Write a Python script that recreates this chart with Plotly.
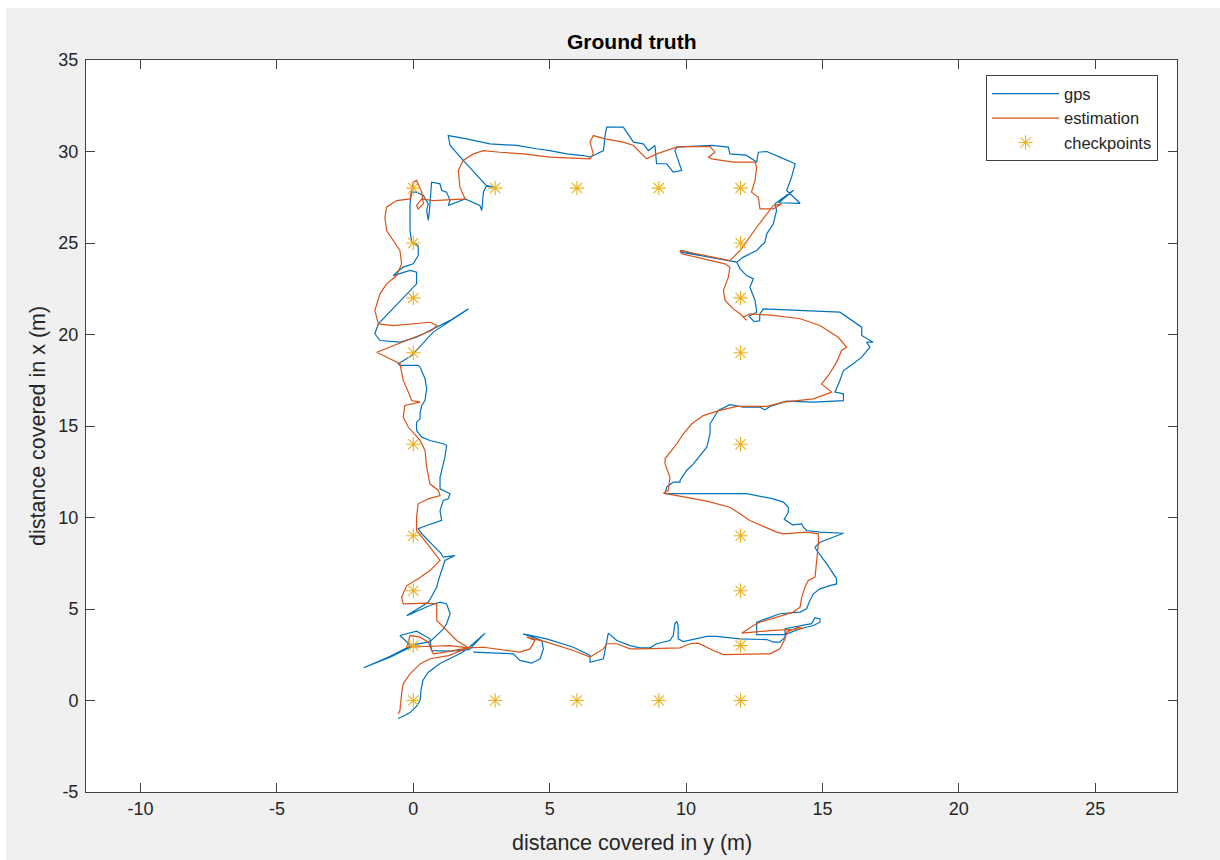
import plotly.graph_objects as go

# (distance in y, distance in x) pairs, metres
gps_track = [
(-0.56,-0.98),(-0.35,-0.85),(-0.12,-0.66),(0.1,-0.35),(0.25,0.0),(0.28,0.55),(0.35,1.09),(0.54,1.53),(0.98,2.02),(1.42,2.35),(1.79,2.62),(2.0,2.84),(2.63,3.68),(2.05,2.78),(1.4,2.7),(0.67,2.73),(0.61,3.37),(0.12,3.79),(-0.49,3.55),(-0.06,2.95),(-0.85,2.37),(-1.82,1.79),(-0.85,2.42),(0.0,3.05),(0.6,3.2),(1.1,3.9),(1.22,4.19),(1.35,4.74),(1.22,5.28),(0.98,5.37),(0.61,5.19),(-0.24,4.64),(0.55,5.37),(0.86,6.19),(0.92,6.56),(1.16,7.65),(1.53,7.92),(1.1,7.83),(0.98,8.1),(0.67,8.56),(0.31,9.11),(0.18,9.38),(0.31,9.47),(1.04,9.84),(0.98,10.38),(1.1,10.93),(1.28,11.02),(1.35,11.3),(1.22,11.38),(0.98,11.57),(0.98,12.2),(1.1,12.93),(1.16,13.3),(1.22,13.93),(1.1,14.03),(0.61,14.21),(0.31,14.39),(0.12,14.75),(0.12,15.21),(0.25,15.39),(0.25,15.75),(0.31,16.12),(0.43,16.39),(0.49,17.03),(0.43,17.58),(0.25,18.21),(0.18,18.31),(-0.49,18.31),(-0.55,18.4),(-0.06,18.85),(0.73,20.13),(2.02,21.4),(1.35,20.77),(0.61,20.22),(0.12,19.85),(-0.49,19.58),(-1.22,19.67),(-1.41,20.04),(-1.28,20.58),(0.12,22.77),(0.12,23.4),(-0.12,23.5),(-0.73,23.22),(-0.61,23.4),(-0.37,23.68),(0.0,23.86),(0.18,24.32),(0.18,24.86),(-0.06,25.05),(-0.12,25.68),(-0.12,27.14),(-0.06,27.78),(0.12,27.78),(0.37,27.6),(0.55,27.14),(0.49,26.78),(0.55,26.23),(0.6,26.9),(0.67,28.32),(0.98,28.23),(1.04,27.87),(1.22,27.78),(1.35,27.32),(1.28,27.05),(1.9,27.41),(2.44,27.05),(2.51,26.78),(2.57,27.78),(2.69,28.14),(2.93,28.05),(2.7,28.1),(1.83,29.51),(1.35,30.33),(1.28,30.87),(1.96,30.69),(2.81,30.42),(3.79,30.33),(4.52,30.15),(5.01,30.05),(5.62,29.87),(6.23,29.78),(6.48,29.69),(6.72,29.87),(6.97,30.05),(7.03,30.87),(7.09,31.33),(7.7,31.33),(8.07,30.51),(8.43,30.42),(8.62,30.05),(8.86,30.33),(8.92,29.33),(9.29,29.33),(9.53,28.87),(9.84,28.96),(9.59,30.05),(9.66,30.24),(10.94,30.33),(11.55,30.24),(11.61,29.87),(12.2,29.8),(12.59,29.42),(12.65,29.96),(12.96,30.0),(13.44,29.69),(14.0,29.33),(13.87,28.6),(13.69,27.87),(14.18,27.17),(13.4,27.2),(13.95,27.9),(13.26,27.14),(13.32,26.78),(13.2,26.05),(12.96,25.5),(12.89,25.05),(12.59,24.59),(12.1,24.23),(11.86,23.95),(11.24,24.13),(10.51,24.32),(9.84,24.59),(9.78,24.5),(10.6,24.3),(11.86,23.95),(11.98,23.59),(12.22,23.22),(12.47,23.04),(12.34,22.58),(12.53,21.86),(12.59,21.22),(12.3,21.0),(12.5,20.7),(12.7,20.75),(12.7,21.1),(12.83,21.4),(14.42,21.31),(15.64,21.22),(16.44,20.4),(16.44,19.95),(16.86,19.58),(16.62,19.58),(16.74,19.31),(16.44,18.76),(16.13,18.4),(15.77,18.03),(15.64,17.49),(15.46,16.85),(15.77,16.76),(15.77,16.39),(14.67,16.3),(13.69,16.36),(13.08,16.07),(12.89,15.88),(12.71,16.03),(12.1,16.03),(11.61,16.17),(11.18,15.85),(10.88,15.12),(10.88,14.57),(10.76,13.84),(10.45,13.3),(10.27,12.93),(10.02,12.57),(9.78,12.02),(9.78,11.93),(9.53,11.93),(9.29,11.66),(9.23,11.3),(9.78,11.3),(11.12,11.3),(12.22,11.3),(13.2,11.02),(13.57,10.84),(13.75,10.56),(13.75,10.29),(13.6,9.9),(13.9,9.6),(14.24,9.65),(14.3,9.47),(14.42,9.29),(14.91,9.2),(15.77,9.14),(14.91,8.65),(14.73,8.38),(14.79,8.2),(15.16,7.47),(15.52,6.65),(15.52,6.37),(15.27,6.28),(14.91,6.1),(14.67,5.83),(14.54,5.46),(14.42,5.01),(14.18,4.83),(13.44,4.74),(12.59,4.28),(12.59,3.6),(13.63,3.6),(14.18,3.92),(14.67,4.1),(14.91,4.28),(14.91,4.46),(14.73,4.52),(14.6,4.2),(13.63,3.92),(13.63,3.46),(13.44,3.19),(13.2,3.19),(12.96,3.33),(11.98,3.37),(11.12,3.5),(10.76,3.5),(9.9,3.22),(9.71,3.37),(9.71,4.1),(9.66,4.32),(9.59,4.19),(9.53,3.55),(9.41,3.28),(8.92,3.1),(8.68,2.88),(8.31,2.88),(7.95,3.0),(7.46,3.28),(7.15,3.68),(6.97,2.28),(6.48,2.09),(6.48,2.46),(5.87,2.91),(4.89,3.37),(4.03,3.64),(4.71,3.28),(4.77,2.82),(4.65,2.28),(4.34,2.04),(3.91,2.19),(3.67,2.55),(2.2,2.64),
]

estimation_track = [
(-0.55,-0.73),(-0.49,-0.55),(-0.43,0.37),(-0.37,0.91),(-0.12,1.46),(0.25,2.0),(0.61,2.28),(0.98,2.37),(1.3,2.45),(2.02,2.88),(1.35,3.0),(0.4,2.95),(-0.24,2.91),(-0.12,3.55),(0.25,3.46),(0.55,3.19),(0.73,2.55),(1.0,2.6),(2.02,2.88),(1.59,3.28),(1.1,4.01),(0.86,4.37),(0.86,5.28),(0.49,5.32),(-0.37,5.28),(-0.43,5.64),(-0.24,6.28),(0.18,6.65),(0.61,7.1),(0.98,7.65),(0.61,8.38),(0.31,8.92),(0.12,9.29),(0.12,10.02),(0.18,10.75),(0.55,11.02),(0.98,11.2),(0.92,11.48),(0.61,11.84),(0.49,12.75),(0.43,13.66),(0.25,14.21),(-0.18,14.93),(-0.37,15.48),(-0.31,16.12),(0.25,16.3),(-0.06,16.39),(-0.18,16.85),(-0.37,17.49),(-0.49,18.4),(-1.34,19.03),(0.67,20.22),(0.86,20.49),(0.61,20.67),(-0.73,20.49),(-1.28,20.58),(-1.41,21.31),(-1.22,22.22),(-0.98,22.77),(-0.61,23.22),(-0.43,23.86),(-0.49,24.59),(-0.73,25.14),(-0.98,25.68),(-1.04,26.41),(-0.98,26.96),(-0.61,27.32),(-0.12,27.41),(0.0,28.32),(0.12,28.42),(0.31,27.78),(0.37,27.14),(0.18,26.86),(0.12,27.05),(0.31,27.41),(0.73,27.32),(1.9,27.41),(1.71,28.05),(1.65,28.96),(1.83,29.51),(2.2,29.87),(2.57,30.05),(3.18,29.96),(4.03,29.87),(5.01,29.69),(6.48,29.6),(6.6,29.87),(6.48,30.51),(6.6,30.87),(7.03,30.69),(7.7,30.51),(8.07,30.33),(8.49,29.69),(8.56,29.6),(8.92,29.87),(9.71,30.27),(10.88,30.27),(11.06,29.96),(10.82,29.69),(10.94,29.6),(11.73,29.42),(12.53,29.42),(12.59,29.15),(12.53,28.42),(12.4,27.78),(12.65,27.5),(12.71,26.86),(13.2,26.86),(13.51,27.14),(13.2,27.05),(12.59,25.86),(11.98,24.59),(11.61,24.04),(9.78,24.59),(9.84,24.41),(11.43,23.86),(11.61,23.68),(11.55,23.13),(11.37,22.4),(11.43,21.86),(11.73,21.4),(11.98,21.13),(12.22,20.77),(12.1,20.95),(12.34,21.13),(13.2,21.04),(14.18,20.86),(14.91,20.49),(15.58,19.85),(15.89,19.31),(15.7,19.13),(15.52,18.49),(15.22,17.76),(14.97,17.3),(15.34,16.85),(14.67,16.48),(13.57,16.3),(12.96,16.07),(11.86,16.07),(11.24,15.85),(10.63,15.57),(10.21,15.12),(9.9,14.57),(9.66,14.03),(9.23,13.21),(9.23,12.93),(9.41,12.2),(9.35,11.48),(9.17,11.33),(9.9,11.11),(10.76,10.89),(11.61,10.56),(12.34,9.84),(13.32,9.2),(13.57,9.11),(14.42,9.2),(14.85,9.11),(14.85,8.56),(14.79,7.65),(14.73,6.74),(14.48,6.56),(14.36,6.19),(14.24,5.64),(14.18,5.1),(13.93,4.83),(12.71,4.28),(12.47,4.1),(12.04,3.68),(13.2,3.83),(14.3,3.92),(14.12,4.01),(13.69,3.73),(13.63,3.37),(13.44,2.82),(13.08,2.55),(11.37,2.51),(11.0,2.73),(10.45,3.13),(10.14,3.1),(9.78,2.88),(8.31,2.82),(7.95,2.82),(7.46,3.1),(7.09,3.1),(6.97,2.82),(6.48,2.37),(5.87,2.73),(4.89,3.19),(4.16,3.46),(4.46,3.28),(4.28,2.82),(3.91,2.64),(2.57,2.91),(2.02,2.88),
]

checkpoint_y = [0, 3, 6, 9, 12, 0, 0, 0, 0, 0, 0, 0, 0, 3, 6, 9, 12, 12, 12, 12, 12, 12, 12, 12]
checkpoint_x = [0, 0, 0, 0, 0, 3, 6, 9, 14, 19, 22, 25, 28, 28, 28, 28, 28, 25, 22, 19, 14, 9, 6, 3]

x_ticks = [-10, -5, 0, 5, 10, 15, 20, 25]
x_tick_labels = ["-10", "-5", "0", "5", "10", "15", "20", "25"]
y_ticks = [-5, 0, 5, 10, 15, 20, 25, 30, 35]
y_tick_labels = ["-5", "0", "5", "10", "15", "20", "25", "30", "35"]

FONT = "Liberation Sans, Arial, Helvetica, sans-serif"
TXT = "#262626"
AX = "#404040"

fig = go.Figure()
fig.add_trace(go.Scatter(
    x=[p[0] for p in gps_track], y=[p[1] for p in gps_track],
    mode="lines", name="gps", line=dict(color="#0072BD", width=1.2)))
fig.add_trace(go.Scatter(
    x=[p[0] for p in estimation_track], y=[p[1] for p in estimation_track],
    mode="lines", name="estimation", line=dict(color="#D95319", width=1.2)))
fig.add_trace(go.Scatter(
    x=checkpoint_y, y=checkpoint_x, mode="markers", name="checkpoints",
    marker=dict(symbol="asterisk-open", size=12, color="#EDB120",
                line=dict(color="#EDB120", width=1.1))))

axis_common = dict(
    showgrid=False, zeroline=False, showline=True, linecolor=AX, linewidth=1,
    mirror="ticks", ticks="inside", ticklen=9, tickcolor=AX, tickwidth=1,
    tickfont=dict(family=FONT, size=18, color=TXT),
)
fig.update_xaxes(range=[-12, 28], tickvals=x_ticks, ticktext=x_tick_labels, **axis_common)
fig.update_yaxes(range=[-5, 35], tickvals=y_ticks, ticktext=y_tick_labels,
                 ticklabelstandoff=3, **axis_common)

fig.update_layout(
    width=1220, height=860, autosize=False,
    margin=dict(l=86, r=43, t=60, b=68),
    paper_bgcolor="#f0f0f0", plot_bgcolor="white",
    font=dict(family=FONT, color=TXT),
    showlegend=True,
    legend=dict(
        x=0.9826, xanchor="right", y=0.979, yanchor="top",
        bgcolor="white", bordercolor=AX, borderwidth=1,
        font=dict(family=FONT, size=16.5, color=TXT), itemwidth=67,
    ),
    shapes=[
        dict(type="rect", xref="paper", yref="paper", x0=-0.09, x1=-0.0733,
             y0=-0.2, y1=1.2, fillcolor="white", line=dict(width=0), layer="above"),
        dict(type="rect", xref="paper", yref="paper", x0=-0.09, x1=1.1,
             y0=1.0710, y1=1.2, fillcolor="white", line=dict(width=0), layer="above"),
    ],
    annotations=[
        dict(text="<b>Ground truth</b>", xref="paper", yref="paper", x=0.5, y=1.0246,
             xanchor="center", yanchor="middle", showarrow=False,
             font=dict(family=FONT, size=21, color="black")),
        dict(text="distance covered in y (m)", xref="paper", yref="paper", x=0.5, y=-0.0697,
             xanchor="center", yanchor="middle", showarrow=False,
             font=dict(family=FONT, size=21.5, color=TXT)),
        dict(text="distance covered in x (m)", xref="paper", yref="paper", x=-0.044, y=0.5,
             xanchor="center", yanchor="middle", showarrow=False, textangle=-90,
             font=dict(family=FONT, size=21.5, color=TXT)),
    ],
)

fig.write_html("out.html")
